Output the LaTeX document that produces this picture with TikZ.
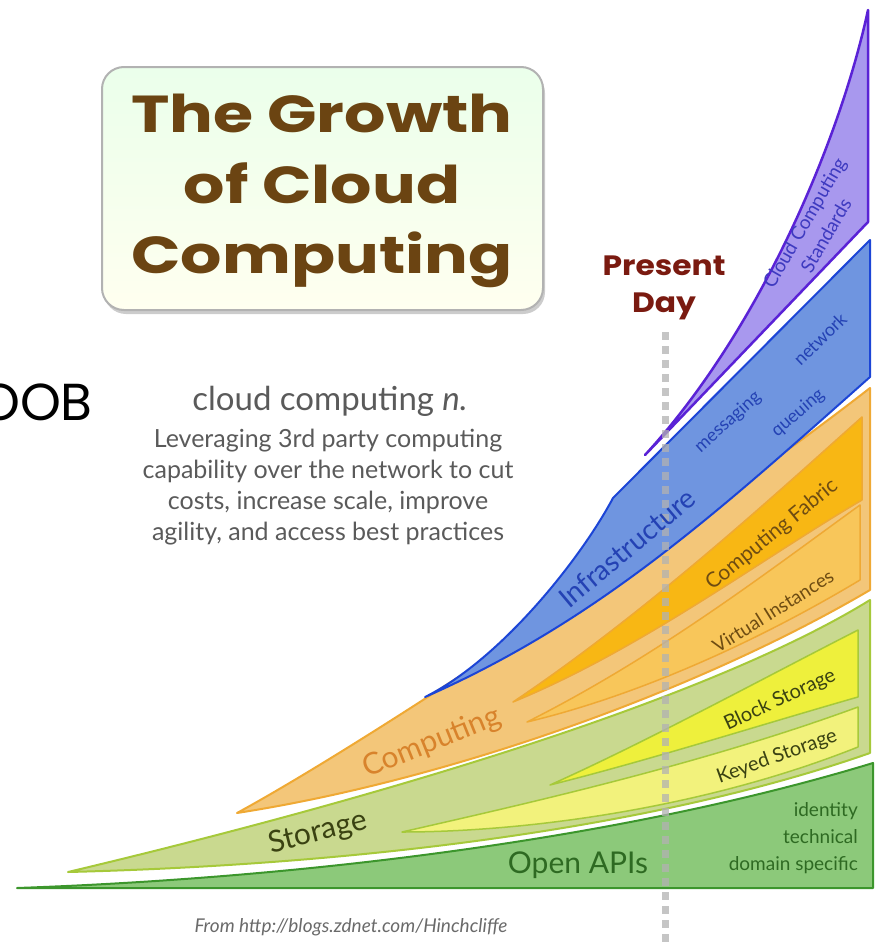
\documentclass[tikz,border=0pt]{standalone}
\usepackage{fontspec}
\setmainfont{Lato}
\newfontfamily\titlefont{Poppins}
\usetikzlibrary{shadows}

\definecolor{titlebrown}{HTML}{6B4412}
\definecolor{presentred}{HTML}{7A1A10}
\definecolor{defgray}{HTML}{5A5A5A}
\definecolor{footgray}{HTML}{6A6A6A}
\definecolor{apifill}{HTML}{8CC97A}
\definecolor{apiline}{HTML}{3C962C}
\definecolor{apitext}{HTML}{2E6A22}
\definecolor{storefill}{HTML}{C9D98F}
\definecolor{storeline}{HTML}{A6C93A}
\definecolor{storetext}{HTML}{3A4212}
\definecolor{blockfill}{HTML}{EEF03C}
\definecolor{keyedfill}{HTML}{F2F27C}
\definecolor{compfill}{HTML}{F3C679}
\definecolor{compline}{HTML}{EFA934}
\definecolor{comptext}{HTML}{D8832C}
\definecolor{fabricfill}{HTML}{F8B714}
\definecolor{virtfill}{HTML}{F8C65A}
\definecolor{fabrictext}{HTML}{6E4C12}
\definecolor{infrafill}{HTML}{6F95E0}
\definecolor{infraline}{HTML}{1C45D6}
\definecolor{infratext}{HTML}{2442B4}
\definecolor{stdfill}{HTML}{A898EE}
\definecolor{stdline}{HTML}{5A22D6}
\definecolor{stdtext}{HTML}{3E3AC0}

\newcommand{\px}[1]{\fontsize{#1}{#1}\selectfont}

\tikzset{
  band/.style={line width=2pt, line join=round},
  apiband/.style={band, fill=apifill, draw=apiline},
  storeband/.style={band, fill=storefill, draw=storeline},
  blockband/.style={band, line width=1.5pt, fill=blockfill, draw=storeline},
  keyedband/.style={band, line width=1.5pt, fill=keyedfill, draw=storeline},
  compband/.style={band, fill=compfill, draw=compline},
  fabricband/.style={band, line width=1.5pt, fill=fabricfill, draw=compline},
  virtband/.style={band, line width=1.5pt, fill=virtfill, draw=compline},
  infraband/.style={band, fill=infrafill, draw=infraline},
  stdband/.style={band, line width=2.5pt, fill=stdfill, draw=stdline},
  presentline/.style={line width=7pt, draw=gray!60, opacity=0.75, dash pattern=on 8pt off 6pt},
  titlebox/.style={rounded corners=22pt, line width=2pt, draw=gray!60,
    top color=green!8, bottom color=yellow!6,
    drop shadow={shadow xshift=2pt, shadow yshift=-4pt, opacity=0.4}},
  titletext/.style={anchor=base, inner sep=0pt, text=titlebrown,
    font=\titlefont\bfseries\px{52}},
  presenttext/.style={anchor=base, inner sep=0pt, text=presentred,
    font=\titlefont\bfseries\px{28}},
  deftext/.style={anchor=base, inner sep=0pt, text=defgray, font=\px{25}},
  bandlabel/.style={inner sep=0pt, font=\px{20}},
}

\begin{document}
\begin{tikzpicture}[x=1pt,y=1pt]
%%%%% FRAME %%%%%
\useasboundingbox (0,0) rectangle (880,-948);

%%%%% TITLE %%%%%
\draw[titlebox] (102,-67) rectangle (543,-310);
\node[titletext] (title1) at (322,-132) {\scalebox{1.25}[1]{The Growth}};
\node[titletext] (title2) at (322,-203) {\scalebox{1.25}[1]{of Cloud}};
\node[titletext] (title3) at (322,-273) {\scalebox{1.25}[1]{Computing}};

\node[anchor=base west, inner sep=0pt, font=\titlefont\px{52}] (oob) at (-21,-420) {OOB};

%%%%% DEFINITION %%%%%
\node[deftext, font=\px{33}] (defhead) at (330,-410) {cloud computing \textit{n.}};
\foreach \txt [count=\i] in {Leveraging 3rd party computing,
    capability over the network to cut,
    {costs, increase scale, improve},
    {agility, and access best practices}}
  \node[deftext] (def\i) at (328,{-447-31*(\i-1)}) {\txt};

%%%%% PRESENT DAY %%%%%
\node[presenttext] (present) at (664,-275) {\scalebox{1.12}[1]{Present}};
\node[presenttext] (day) at (664,-312) {\scalebox{1.12}[1]{Day}};

%%%%% BANDS %%%%%
\draw[apiband] (17,-888) .. controls (300,-878) and (620,-840) .. (873,-763) -- (873,-888) -- cycle;

\draw[storeband] (68,-872) .. controls (350,-805) and (700,-705) .. (870,-600) -- (870,-753)
  .. controls (650,-830) and (350,-865) .. (68,-872) -- cycle;
\draw[keyedband] (402,-832) .. controls (520,-805) and (700,-765) .. (858,-707) -- (858,-747)
  .. controls (700,-810) and (520,-832) .. (402,-832) -- cycle;
\draw[blockband] (550,-785) .. controls (650,-740) and (760,-680) .. (858,-630) -- (858,-697)
  .. controls (760,-725) and (650,-760) .. (550,-785) -- cycle;

\draw[compband] (237,-813) .. controls (380,-735) and (700,-520) .. (870,-388) -- (870,-590)
  .. controls (700,-690) and (450,-780) .. (237,-813) -- cycle;
\draw[fabricband] (513,-702) .. controls (650,-610) and (780,-490) .. (862,-417) -- (862,-500)
  .. controls (760,-560) and (640,-650) .. (513,-702) -- cycle;
\draw[virtband] (527,-722) .. controls (660,-655) and (770,-570) .. (860,-505) -- (860,-580)
  .. controls (760,-640) and (640,-695) .. (527,-722) -- cycle;

\draw[infraband] (425,-697) .. controls (500,-660) and (580,-560) .. (613,-498) -- (870,-240) -- (870,-377)
  .. controls (720,-510) and (600,-620) .. (425,-697) -- cycle;

\draw[stdband] (645,-455) -- (868,-222) -- (868,-10) .. controls (840,-140) and (760,-330) .. (645,-455) -- cycle;

\draw[presentline] (665,-332) -- (665,-948);

%%%%% LABELS %%%%%
\node[bandlabel, text=stdtext, rotate=60, align=center, font=\fontsize{19}{25}\selectfont] (stdlabel) at (815,-229) {Cloud Computing\\Standards};
\node[bandlabel, text=infratext, rotate=44, font=\px{18}] (network) at (820,-339) {network};
\node[bandlabel, text=infratext, rotate=42, font=\px{18}] (messaging) at (728,-422) {messaging};
\node[bandlabel, text=infratext, rotate=41, font=\px{18}] (queuing) at (798,-413) {queuing};
\node[bandlabel, text=infratext, rotate=40, font=\px{28}] (infra) at (627,-548) {Infrastructure};
\node[bandlabel, text=fabrictext, rotate=39, font=\px{21}] (fabric) at (772,-535) {Computing Fabric};
\node[bandlabel, text=fabrictext, rotate=32, font=\px{19}] (virtual) at (773,-611) {Virtual Instances};
\node[bandlabel, text=storetext, rotate=25] (block) at (780,-700) {Block Storage};
\node[bandlabel, text=storetext, rotate=20] (keyed) at (777,-757) {Keyed Storage};
\node[bandlabel, text=comptext, rotate=22, font=\px{30}] (computing) at (432,-743) {Computing};
\node[bandlabel, text=storetext, rotate=14, font=\px{30}] (storage) at (318,-833) {Storage};
\node[bandlabel, text=apitext, font=\px{30}] (openapis) at (578,-865) {Open APIs};
\node[bandlabel, text=apitext, anchor=east, align=right, font=\fontsize{19}{27}\selectfont] (apilist) at (858,-838) {identity\\technical\\domain specific};

%%%%% SOURCE %%%%%
\node[anchor=base, inner sep=0pt, text=footgray, font=\itshape\px{19}] (source) at (351,-932) {From http://blogs.zdnet.com/Hinchcliffe};
\end{tikzpicture}
\end{document}
